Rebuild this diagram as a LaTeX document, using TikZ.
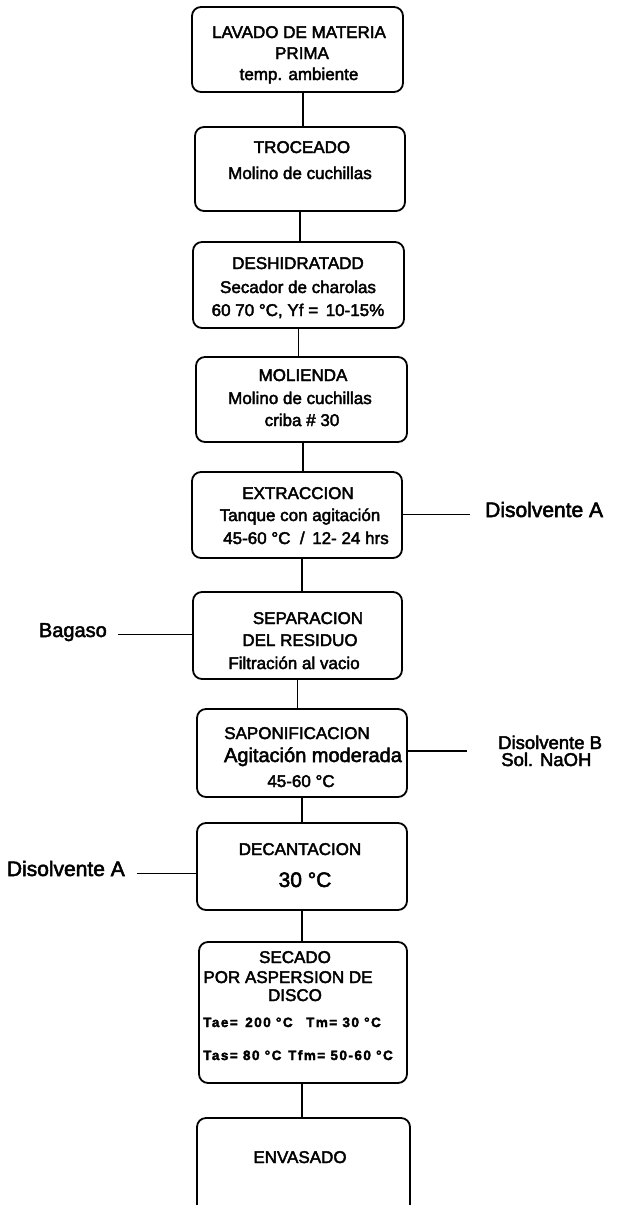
\documentclass[tikz,border=0pt]{standalone}
\usepackage{fontspec}
\setmainfont{Liberation Sans}[FakeBold=2.5]
\begin{document}
\begin{tikzpicture}[x=1pt,y=-1pt,
  box/.style={draw, line width=1.8pt, rounded corners=9pt, inner sep=0pt},
  link/.style={draw, line width=1.2pt},
  t17/.style={font=\fontsize{17}{20}\selectfont, anchor=base, inner sep=0pt},
  t21/.style={font=\fontsize{21}{24}\selectfont, anchor=base, inner sep=0pt},
  t20/.style={font=\fontsize{20}{23}\selectfont, anchor=base, inner sep=0pt},
  tsm/.style={font=\fontsize{13.5}{16}\selectfont\bfseries\addfontfeature{LetterSpace=11}, anchor=base, inner sep=0pt},
  side/.style={font=\fontsize{19}{18}\selectfont, anchor=base, inner sep=0pt}]
\clip (0,0) rectangle (616,1205);
\useasboundingbox (0,0) rectangle (616,1205);

% process boxes
\node[box, minimum width=211pt, minimum height=85pt] (b1) at (297.5,49.5) {};
\node[box, minimum width=210pt, minimum height=84pt] (b2) at (300,169) {};
\node[box, minimum width=211pt, minimum height=86pt] (b3) at (298.5,285) {};
\node[box, minimum width=211pt, minimum height=85pt] (b4) at (301.5,399.5) {};
\node[box, minimum width=210pt, minimum height=86pt] (b5) at (297,515) {};
\node[box, minimum width=209pt, minimum height=87pt] (b6) at (297.5,635.5) {};
\node[box, minimum width=210pt, minimum height=88pt] (b7) at (302,753) {};
\node[box, minimum width=210pt, minimum height=87pt] (b8) at (302,866.5) {};
\node[box, minimum width=208pt, minimum height=141pt] (b9) at (303,1012.5) {};
\node[box, minimum width=213pt, minimum height=110pt] (b10) at (303.5,1173) {};

% box texts
\node[t17] (l1a) at (299,38) {LAVADO DE MATERIA};
\node[t17] (l1b) at (302,59) {PRIMA};
\node[t17] (l1c) at (299,80) {temp. ambiente};

\node[t17] (l2a) at (302,153) {TROCEADO};
\node[t17] (l2b) at (300,179) {Molino de cuchillas};

\node[t17] (l3a) at (298,269) {DESHIDRATADD};
\node[t17] (l3b) at (298,293) {Secador de charolas};
\node[t17] (l3c) at (298,316) {60 70 °C, Yf = \,10-15\%};

\node[t17] (l4a) at (303,381) {MOLIENDA};
\node[t17] (l4b) at (300,404) {Molino de cuchillas};
\node[t17] (l4c) at (302,426) {criba \# 30};

\node[t17] (l5a) at (298,499) {EXTRACCION};
\node[t17] (l5b) at (300,521) {Tanque con agitación};
\node[t17] (l5c) at (306,544) {45-60 °C \ / \,12- 24 hrs};

\node[t17] (l6a) at (308,624) {SEPARACION};
\node[t17] (l6b) at (300,646) {DEL RESIDUO};
\node[t17] (l6c) at (294,669) {Filtración al vacio};

\node[t17] (l7a) at (297,739) {SAPONIFICACION};
\node[t20] (l7b) at (313,762) {Agitación moderada};
\node[t17] (l7c) at (301,787) {45-60 °C};

\node[t17] (l8a) at (300,855) {DECANTACION};
\node[t21] (l8b) at (305,887) {30 °C};

\node[t17] (l9a) at (295,963) {SECADO};
\node[t17] (l9b) at (288,983) {POR ASPERSION DE};
\node[t17] (l9c) at (295,1001) {DISCO};
\node[tsm, anchor=base west] (l9d) at (203,1027) {Tae= \,200 °C\quad Tm= 30 °C};
\node[tsm, anchor=base west] (l9e) at (203,1060) {Tas= 80 °C\enspace Tfm= 50-60 °C};

\node[t17] (l10) at (300,1163) {ENVASADO};

% streams entering and leaving
\node[side, font=\fontsize{21}{24}\selectfont, anchor=base west] (sA) at (485,517) {Disolvente A};
\node[side, font=\fontsize{20}{24}\selectfont, anchor=base east] (sBag) at (107,637) {Bagaso};
\node[side, font=\fontsize{18.5}{18}\selectfont, anchor=base west, align=left] (sB) at (498,766) {Disolvente B\\[-1pt]\,Sol. NaOH};
\node[side, font=\fontsize{21}{24}\selectfont, anchor=base east] (sA2) at (125,876) {Disolvente A};

% vertical connectors
\draw[link] ([xshift=5.5pt]b1.south) -- ([xshift=5.5pt]b1.south |- b2.north);
\draw[link] (b2.south) -- (b2.south |- b3.north);
\draw[link] (b3.south) -- (b3.south |- b4.north);
\draw[link] ([xshift=1.5pt]b4.south) -- ([xshift=1.5pt]b4.south |- b5.north);
\draw[link] ([xshift=5pt]b5.south) -- ([xshift=5pt]b5.south |- b6.north);
\draw[link] (b6.south) -- (b6.south |- b7.north);
\draw[link] (b7.south) -- (b7.south |- b8.north);
\draw[link] (b8.south) -- (b8.south |- b9.north);
\draw[link] ([xshift=-1pt]b9.south) -- ([xshift=-1pt]b9.south |- b10.north);

% horizontal connectors
\draw[link] (b5.east |- sA.mid) -- ([xshift=-15pt]sA.mid west);
\draw[link] ([xshift=11pt]sBag.mid east) -- (b6.west |- sBag.mid east);
\draw[link] ([yshift=2pt]b7.east) -- ++(59,0);
\draw[link] ([xshift=12pt]sA2.mid east) -- (b8.west |- sA2.mid east);
\end{tikzpicture}
\end{document}
